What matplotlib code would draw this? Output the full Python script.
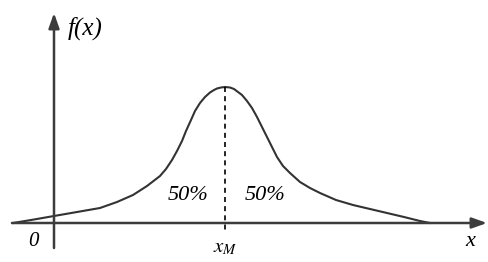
import matplotlib
matplotlib.use('Agg')
import numpy as np
import matplotlib.pyplot as plt

# puntos de la curva (x relativo al eje y, altura sobre el eje x)
xs = [-41, -20, 0, 23, 46, 63, 79, 93, 106, 112, 118, 123, 128, 132, 137, 141, 146,
      151, 156, 160, 163, 167, 171, 176, 180, 184, 188, 193, 198, 203, 208, 213,
      218, 223, 229, 236, 246, 256, 266, 282, 299, 316, 333, 350, 366, 376]
ys = [0, 3.5, 7, 11, 15, 21, 28, 37, 47, 54, 63, 72, 82, 92, 103, 112, 120,
      126, 130.5, 133, 134.5, 135.5, 136, 135.5, 134, 131, 128, 122, 115, 106, 96, 86,
      76, 66, 57, 50, 41, 35, 30, 23, 18, 14, 10, 6, 2, 0]
x_m = 171

fig = plt.figure(figsize=(4.89, 2.62), dpi=100)
ax = fig.add_axes([0, 0, 1, 1])
ax.set_xlim(-54, 435)
ax.set_ylim(-39, 223)
ax.axis('off')

col_ejes = '#3c3c3c'
# ejes con flecha
ax.annotate('', xy=(433, 0), xytext=(-42, 0),
            arrowprops=dict(arrowstyle='-|>,head_length=0.9,head_width=0.32',
                            color=col_ejes, lw=1.8, shrinkA=0, shrinkB=0))
ax.annotate('', xy=(0, 210), xytext=(0, -25),
            arrowprops=dict(arrowstyle='-|>,head_length=0.9,head_width=0.32',
                            color=col_ejes, lw=1.8, shrinkA=0, shrinkB=0))

ax.plot(xs, ys, color='#333333', lw=1.5, solid_joinstyle='round')
ax.plot([x_m, x_m], [136, -8], color='black', lw=1.2, ls=(0, (3, 2.5)))

fuente = dict(family='Liberation Serif', style='italic', color='black')
ax.text(14, 195, 'f(x)', fontsize=18, va='center', ha='left', **fuente)
ax.text(-21, -18, '0', fontsize=15, va='center', ha='center', **fuente)
ax.text(416, -18, 'x', fontsize=16, va='center', ha='center', **fuente)
ax.text(x_m, -24, r'$x_{\mathit{M}}$', fontsize=15, va='center', ha='center',
        math_fontfamily='stix')
ax.text(134, 28, '50%', fontsize=16, va='center', ha='center', **fuente)
ax.text(211, 28, '50%', fontsize=16, va='center', ha='center', **fuente)

plt.savefig('out.png', dpi=100)
